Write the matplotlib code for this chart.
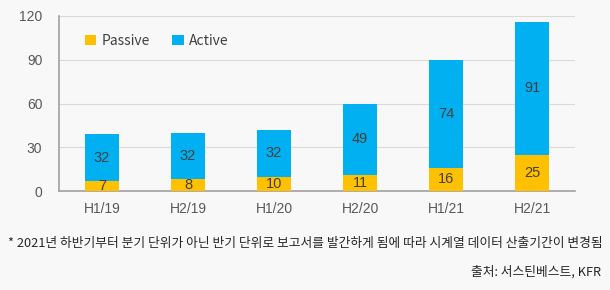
import matplotlib
matplotlib.use("Agg")
import matplotlib.pyplot as plt
import numpy as np

plt.rcParams['font.family'] = ['Noto Sans CJK KR', 'DejaVu Sans']

categories = ["H1/19", "H2/19", "H1/20", "H2/20", "H1/21", "H2/21"]
passive = [7, 8, 10, 11, 16, 25]
active = [32, 32, 32, 49, 74, 91]
yticks = [0, 30, 60, 90, 120]

c_passive = "#FFC000"
c_active = "#00B0F0"
bg = "#F8F8F8"
num_font = ['Liberation Sans', 'DejaVu Sans']

fig = plt.figure(figsize=(6.1, 2.9), dpi=100, facecolor=bg)
ax = fig.add_axes([0.0967, 0.341, 0.8463, 0.604], facecolor=bg)

x = np.arange(len(categories))
w = 0.4
ax.bar(x, passive, width=w, color=c_passive, label="Passive", zorder=3)
ax.bar(x, active, width=w, bottom=passive, color=c_active, label="Active", zorder=3)

for i in range(len(x)):
    ax.text(x[i], passive[i] / 2, str(passive[i]), ha="center", va="center",
            fontsize=10.5, color="#404040", zorder=4, family=num_font)
    ax.text(x[i], passive[i] + active[i] / 2, str(active[i]), ha="center", va="center",
            fontsize=10.5, color="#404040", zorder=4, family=num_font)

ax.set_xlim(-0.5, len(categories) - 0.5)
ax.set_ylim(0, 120)
ax.set_yticks(yticks)
ax.set_xticks(x)
ax.set_xticklabels(categories)
ax.tick_params(axis="both", length=0, labelsize=10, colors="#595959")
for lab in ax.get_xticklabels() + ax.get_yticklabels():
    lab.set_family(num_font)
ax.tick_params(axis="y", pad=12)
ax.tick_params(axis="x", pad=8)
ax.grid(axis="y", color="#D9D9D9", linewidth=0.8, zorder=0)
for s in ["top", "right"]:
    ax.spines[s].set_visible(False)
ax.spines["left"].set_color("#A0A0A0")
ax.spines["left"].set_linewidth(1.2)
ax.spines["bottom"].set_color("#A0A0A0")
ax.spines["bottom"].set_linewidth(1.2)

leg = ax.legend(loc="upper left", bbox_to_anchor=(0.04, 0.93), ncol=2, frameon=False,
                fontsize=10, handlelength=0.8, handleheight=0.8, handletextpad=0.4,
                columnspacing=1.6, borderaxespad=0)
for t in leg.get_texts():
    t.set_color("#404040")

fig.text(0.5, 1 - 244 / 290, "* 2021년 하반기부터 분기 단위가 아닌 반기 단위로 보고서를 발간하게 됨에 따라 시계열 데이터 산출기간이 변경됨",
         ha="center", va="center", fontsize=9.2, color="#262626")
fig.text(0.985, 1 - 272 / 290, "출처: 서스틴베스트, KFR", ha="right", va="center",
         fontsize=9.2, color="#262626")

fig.savefig("out.png", dpi=100, facecolor=bg)
